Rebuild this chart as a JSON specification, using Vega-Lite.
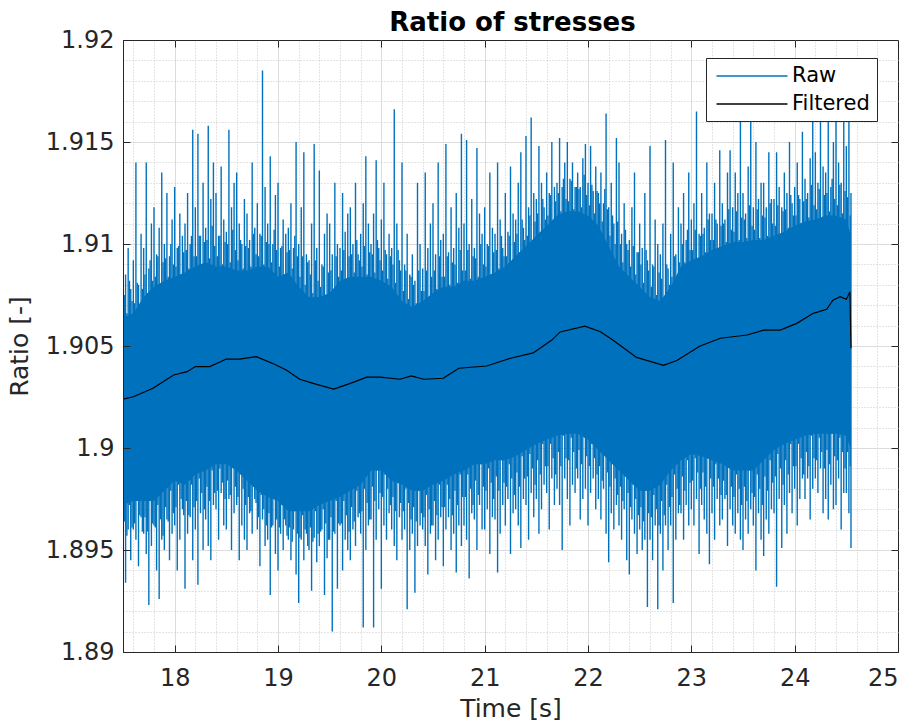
{
"$schema": "https://vega.github.io/schema/vega-lite/v6.json",
"width": 775,
"height": 612,
"autosize": {"type": "none"},
"padding": {"left": 123, "top": 40, "right": 17, "bottom": 72},
"background": "white",
"title": {"text": "Ratio of stresses", "font": "DejaVu Sans", "fontSize": 26, "fontWeight": "bold", "color": "#000000", "offset": -8, "frame": "group", "dx": 2},
"config": {
  "view": {"stroke": "#262626", "strokeWidth": 1},
  "axis": {"labelFont": "DejaVu Sans", "titleFont": "DejaVu Sans", "labelFontSize": 24, "titleFontSize": 25, "titleFontWeight": "normal", "labelColor": "#262626", "titleColor": "#262626", "domainColor": "#262626", "tickColor": "#262626"}
},
"datasets": {
"core": [
{"t":17.5,"top":1.9064,"bot":1.8972},{"t":17.6,"top":1.9066,"bot":1.8974},{"t":17.7,"top":1.9074,"bot":1.8974},{"t":17.8,"top":1.9079,"bot":1.8974},{"t":17.9,"top":1.9082,"bot":1.8979},
{"t":18.0,"top":1.9084,"bot":1.8984},{"t":18.1,"top":1.9086,"bot":1.8982},{"t":18.2,"top":1.9089,"bot":1.8987},{"t":18.3,"top":1.9091,"bot":1.8989},{"t":18.4,"top":1.9089,"bot":1.8992},
{"t":18.5,"top":1.9089,"bot":1.8992},{"t":18.6,"top":1.9087,"bot":1.8989},{"t":18.7,"top":1.9087,"bot":1.8984},{"t":18.8,"top":1.9089,"bot":1.8979},{"t":18.9,"top":1.9089,"bot":1.8976},
{"t":19.0,"top":1.9084,"bot":1.8974},{"t":19.1,"top":1.9086,"bot":1.8969},{"t":19.2,"top":1.9079,"bot":1.8969},{"t":19.3,"top":1.9074,"bot":1.8969},{"t":19.4,"top":1.9074,"bot":1.8972},
{"t":19.5,"top":1.9076,"bot":1.8974},{"t":19.6,"top":1.9082,"bot":1.8976},{"t":19.7,"top":1.9084,"bot":1.8979},{"t":19.8,"top":1.9084,"bot":1.8982},{"t":19.9,"top":1.9084,"bot":1.8989},
{"t":20.0,"top":1.9082,"bot":1.8989},{"t":20.1,"top":1.9079,"bot":1.8984},{"t":20.2,"top":1.9072,"bot":1.8982},{"t":20.3,"top":1.9069,"bot":1.8979},{"t":20.4,"top":1.9072,"bot":1.8979},
{"t":20.5,"top":1.9076,"bot":1.8982},{"t":20.6,"top":1.9079,"bot":1.8984},{"t":20.7,"top":1.9079,"bot":1.8987},{"t":20.8,"top":1.9082,"bot":1.8989},{"t":20.9,"top":1.9082,"bot":1.8992},
{"t":21.0,"top":1.9084,"bot":1.8992},{"t":21.1,"top":1.9086,"bot":1.8994},{"t":21.2,"top":1.9089,"bot":1.8994},{"t":21.3,"top":1.9094,"bot":1.8996},{"t":21.4,"top":1.9099,"bot":1.8999},
{"t":21.5,"top":1.9104,"bot":1.9002},{"t":21.6,"top":1.9109,"bot":1.9004},{"t":21.7,"top":1.9114,"bot":1.9006},{"t":21.8,"top":1.9116,"bot":1.9007},{"t":21.9,"top":1.9116,"bot":1.9007},
{"t":22.0,"top":1.9114,"bot":1.9004},{"t":22.1,"top":1.9109,"bot":1.8999},{"t":22.2,"top":1.9099,"bot":1.8994},{"t":22.3,"top":1.9089,"bot":1.8989},{"t":22.4,"top":1.9084,"bot":1.8984},
{"t":22.5,"top":1.9079,"bot":1.8979},{"t":22.6,"top":1.9074,"bot":1.8979},{"t":22.7,"top":1.9072,"bot":1.8982},{"t":22.8,"top":1.9079,"bot":1.8989},{"t":22.9,"top":1.9089,"bot":1.8994},
{"t":23.0,"top":1.9092,"bot":1.8997},{"t":23.1,"top":1.9094,"bot":1.8996},{"t":23.2,"top":1.9097,"bot":1.8994},{"t":23.3,"top":1.9099,"bot":1.8992},{"t":23.4,"top":1.9101,"bot":1.8989},
{"t":23.5,"top":1.9101,"bot":1.8989},{"t":23.6,"top":1.9102,"bot":1.8989},{"t":23.7,"top":1.9102,"bot":1.8994},{"t":23.8,"top":1.9104,"bot":1.8999},{"t":23.9,"top":1.9106,"bot":1.9002},
{"t":24.0,"top":1.9109,"bot":1.9004},{"t":24.1,"top":1.9111,"bot":1.9006},{"t":24.2,"top":1.9112,"bot":1.9007},{"t":24.3,"top":1.9114,"bot":1.9007},{"t":24.4,"top":1.9114,"bot":1.9007},
{"t":24.5,"top":1.9112,"bot":1.9006},{"t":24.545,"top":1.9104,"bot":1.8999}
],
"raw": [
{"t":17.5,"h":1.9114,"l":1.895},{"t":17.525,"h":1.9085,"l":1.8934},{"t":17.55,"h":1.9098,"l":1.896},{"t":17.575,"h":1.9078,"l":1.8945},
{"t":17.6,"h":1.9092,"l":1.896},{"t":17.625,"h":1.914,"l":1.8955},{"t":17.65,"h":1.908,"l":1.8942},{"t":17.675,"h":1.9105,"l":1.8966},
{"t":17.7,"h":1.9098,"l":1.8958},{"t":17.725,"h":1.914,"l":1.8948},{"t":17.75,"h":1.9088,"l":1.8923},{"t":17.775,"h":1.911,"l":1.8952},
{"t":17.8,"h":1.9118,"l":1.8962},{"t":17.825,"h":1.9095,"l":1.894},{"t":17.85,"h":1.9108,"l":1.8926},{"t":17.875,"h":1.9135,"l":1.8955},
{"t":17.9,"h":1.91,"l":1.895},{"t":17.925,"h":1.9125,"l":1.8965},{"t":17.95,"h":1.9094,"l":1.8945},{"t":17.975,"h":1.9112,"l":1.8958},
{"t":18.0,"h":1.9128,"l":1.8962},{"t":18.025,"h":1.9098,"l":1.894},{"t":18.05,"h":1.9115,"l":1.8955},{"t":18.075,"h":1.9104,"l":1.897},
{"t":18.1,"h":1.911,"l":1.8931},{"t":18.125,"h":1.9125,"l":1.8958},{"t":18.15,"h":1.91,"l":1.8966},{"t":18.175,"h":1.9156,"l":1.8945},
{"t":18.2,"h":1.9118,"l":1.896},{"t":18.225,"h":1.9154,"l":1.8933},{"t":18.25,"h":1.9104,"l":1.8968},{"t":18.275,"h":1.913,"l":1.895},
{"t":18.3,"h":1.9108,"l":1.8965},{"t":18.325,"h":1.9158,"l":1.8952},{"t":18.35,"h":1.9122,"l":1.8945},{"t":18.375,"h":1.914,"l":1.8972},
{"t":18.4,"h":1.9125,"l":1.897},{"t":18.425,"h":1.9104,"l":1.8955},{"t":18.45,"h":1.9138,"l":1.8978},{"t":18.475,"h":1.9112,"l":1.8962},
{"t":18.5,"h":1.9106,"l":1.896},{"t":18.525,"h":1.9156,"l":1.8975},{"t":18.55,"h":1.9118,"l":1.895},{"t":18.575,"h":1.913,"l":1.8968},
{"t":18.6,"h":1.9135,"l":1.8972},{"t":18.625,"h":1.911,"l":1.8945},{"t":18.65,"h":1.91,"l":1.8962},{"t":18.675,"h":1.9122,"l":1.8955},
{"t":18.7,"h":1.9115,"l":1.895},{"t":18.725,"h":1.9102,"l":1.8968},{"t":18.75,"h":1.914,"l":1.8958},{"t":18.775,"h":1.9108,"l":1.8975},
{"t":18.8,"h":1.912,"l":1.896},{"t":18.825,"h":1.9105,"l":1.8942},{"t":18.85,"h":1.9185,"l":1.8965},{"t":18.875,"h":1.9128,"l":1.8952},
{"t":18.9,"h":1.911,"l":1.8955},{"t":18.925,"h":1.9143,"l":1.8928},{"t":18.95,"h":1.91,"l":1.8962},{"t":18.975,"h":1.9124,"l":1.8948},
{"t":19.0,"h":1.913,"l":1.894},{"t":19.025,"h":1.9098,"l":1.8958},{"t":19.05,"h":1.9112,"l":1.895},{"t":19.075,"h":1.9105,"l":1.8962},
{"t":19.1,"h":1.9108,"l":1.8955},{"t":19.125,"h":1.912,"l":1.8945},{"t":19.15,"h":1.9098,"l":1.896},{"t":19.175,"h":1.915,"l":1.8938},
{"t":19.2,"h":1.91,"l":1.8924},{"t":19.225,"h":1.9118,"l":1.8955},{"t":19.25,"h":1.9145,"l":1.8945},{"t":19.275,"h":1.9095,"l":1.8958},
{"t":19.3,"h":1.9092,"l":1.895},{"t":19.325,"h":1.911,"l":1.893},{"t":19.35,"h":1.9149,"l":1.8956},{"t":19.375,"h":1.9098,"l":1.8944},
{"t":19.4,"h":1.9136,"l":1.8952},{"t":19.425,"h":1.909,"l":1.896},{"t":19.45,"h":1.9105,"l":1.8928},{"t":19.475,"h":1.9115,"l":1.8946},
{"t":19.5,"h":1.911,"l":1.8955},{"t":19.525,"h":1.9095,"l":1.891},{"t":19.55,"h":1.913,"l":1.8958},{"t":19.575,"h":1.91,"l":1.8931},
{"t":19.6,"h":1.9098,"l":1.8962},{"t":19.625,"h":1.9125,"l":1.894},{"t":19.65,"h":1.9106,"l":1.8955},{"t":19.675,"h":1.9115,"l":1.895},
{"t":19.7,"h":1.9118,"l":1.8945},{"t":19.725,"h":1.91,"l":1.896},{"t":19.75,"h":1.913,"l":1.8952},{"t":19.775,"h":1.9095,"l":1.8966},
{"t":19.8,"h":1.9105,"l":1.8958},{"t":19.825,"h":1.912,"l":1.8912},{"t":19.85,"h":1.9143,"l":1.895},{"t":19.875,"h":1.911,"l":1.8962},
{"t":19.9,"h":1.91,"l":1.8965},{"t":19.925,"h":1.9115,"l":1.8912},{"t":19.95,"h":1.9141,"l":1.8955},{"t":19.975,"h":1.9098,"l":1.897},
{"t":20.0,"h":1.9112,"l":1.8931},{"t":20.025,"h":1.913,"l":1.8962},{"t":20.05,"h":1.9095,"l":1.8955},{"t":20.075,"h":1.9105,"l":1.8968},
{"t":20.1,"h":1.9098,"l":1.896},{"t":20.125,"h":1.9166,"l":1.8952},{"t":20.15,"h":1.911,"l":1.8945},{"t":20.175,"h":1.9092,"l":1.8966},
{"t":20.2,"h":1.914,"l":1.8955},{"t":20.225,"h":1.909,"l":1.896},{"t":20.25,"h":1.9105,"l":1.8921},{"t":20.275,"h":1.9085,"l":1.895},
{"t":20.3,"h":1.9095,"l":1.8958},{"t":20.325,"h":1.9082,"l":1.8929},{"t":20.35,"h":1.913,"l":1.8952},{"t":20.375,"h":1.91,"l":1.8962},
{"t":20.4,"h":1.9088,"l":1.896},{"t":20.425,"h":1.9135,"l":1.8952},{"t":20.45,"h":1.9098,"l":1.8938},{"t":20.475,"h":1.911,"l":1.8958},
{"t":20.5,"h":1.912,"l":1.8962},{"t":20.525,"h":1.9095,"l":1.8945},{"t":20.55,"h":1.914,"l":1.8955},{"t":20.575,"h":1.9102,"l":1.8966},
{"t":20.6,"h":1.9105,"l":1.8942},{"t":20.625,"h":1.9149,"l":1.896},{"t":20.65,"h":1.9096,"l":1.8966},{"t":20.675,"h":1.9118,"l":1.895},
{"t":20.7,"h":1.9098,"l":1.8958},{"t":20.725,"h":1.9125,"l":1.8939},{"t":20.75,"h":1.9108,"l":1.8962},{"t":20.775,"h":1.9154,"l":1.8952},
{"t":20.8,"h":1.911,"l":1.8962},{"t":20.825,"h":1.9151,"l":1.8955},{"t":20.85,"h":1.91,"l":1.8936},{"t":20.875,"h":1.9122,"l":1.8968},
{"t":20.9,"h":1.9098,"l":1.8965},{"t":20.925,"h":1.9147,"l":1.895},{"t":20.95,"h":1.9115,"l":1.8972},{"t":20.975,"h":1.9105,"l":1.896},
{"t":21.0,"h":1.9118,"l":1.896},{"t":21.025,"h":1.91,"l":1.897},{"t":21.05,"h":1.9135,"l":1.8948},{"t":21.075,"h":1.9108,"l":1.8966},
{"t":21.1,"h":1.9105,"l":1.8965},{"t":21.125,"h":1.914,"l":1.8939},{"t":21.15,"h":1.9112,"l":1.8958},{"t":21.175,"h":1.9098,"l":1.8972},
{"t":21.2,"h":1.9125,"l":1.8962},{"t":21.225,"h":1.9106,"l":1.8975},{"t":21.25,"h":1.9138,"l":1.8948},{"t":21.275,"h":1.9115,"l":1.8968},
{"t":21.3,"h":1.9112,"l":1.897},{"t":21.325,"h":1.913,"l":1.8962},{"t":21.35,"h":1.9145,"l":1.8951},{"t":21.375,"h":1.9108,"l":1.8975},
{"t":21.4,"h":1.9153,"l":1.8972},{"t":21.425,"h":1.9118,"l":1.8955},{"t":21.45,"h":1.9162,"l":1.8978},{"t":21.475,"h":1.9125,"l":1.8966},
{"t":21.5,"h":1.9122,"l":1.8975},{"t":21.525,"h":1.9148,"l":1.8958},{"t":21.55,"h":1.913,"l":1.897},{"t":21.575,"h":1.9118,"l":1.8982},
{"t":21.6,"h":1.9135,"l":1.8978},{"t":21.625,"h":1.9125,"l":1.896},{"t":21.65,"h":1.915,"l":1.8985},{"t":21.675,"h":1.9128,"l":1.8972},
{"t":21.7,"h":1.913,"l":1.898},{"t":21.725,"h":1.9152,"l":1.8972},{"t":21.75,"h":1.9128,"l":1.895},{"t":21.775,"h":1.914,"l":1.8985},
{"t":21.8,"h":1.915,"l":1.8975},{"t":21.825,"h":1.9132,"l":1.8962},{"t":21.85,"h":1.914,"l":1.8982},{"t":21.875,"h":1.9128,"l":1.8978},
{"t":21.9,"h":1.9135,"l":1.8985},{"t":21.925,"h":1.9128,"l":1.8965},{"t":21.95,"h":1.9142,"l":1.8975},{"t":21.975,"h":1.9149,"l":1.898},
{"t":22.0,"h":1.913,"l":1.8962},{"t":22.025,"h":1.9148,"l":1.8978},{"t":22.05,"h":1.9126,"l":1.8985},{"t":22.075,"h":1.9138,"l":1.897},
{"t":22.1,"h":1.9125,"l":1.8975},{"t":22.125,"h":1.9135,"l":1.8965},{"t":22.15,"h":1.912,"l":1.898},{"t":22.175,"h":1.9164,"l":1.8958},
{"t":22.2,"h":1.9118,"l":1.8944},{"t":22.225,"h":1.913,"l":1.8968},{"t":22.25,"h":1.911,"l":1.896},{"t":22.275,"h":1.9152,"l":1.8972},
{"t":22.3,"h":1.914,"l":1.8962},{"t":22.325,"h":1.9105,"l":1.8955},{"t":22.35,"h":1.912,"l":1.897},{"t":22.375,"h":1.91,"l":1.8945},
{"t":22.4,"h":1.9102,"l":1.8938},{"t":22.425,"h":1.9118,"l":1.8965},{"t":22.45,"h":1.9135,"l":1.8958},{"t":22.475,"h":1.9096,"l":1.8948},
{"t":22.5,"h":1.911,"l":1.896},{"t":22.525,"h":1.9098,"l":1.895},{"t":22.55,"h":1.9125,"l":1.8955},{"t":22.575,"h":1.9092,"l":1.8922},
{"t":22.6,"h":1.9148,"l":1.8955},{"t":22.625,"h":1.909,"l":1.8945},{"t":22.65,"h":1.9112,"l":1.8962},{"t":22.675,"h":1.91,"l":1.8921},
{"t":22.7,"h":1.9095,"l":1.8958},{"t":22.725,"h":1.911,"l":1.894},{"t":22.75,"h":1.9151,"l":1.8962},{"t":22.775,"h":1.9088,"l":1.895},
{"t":22.8,"h":1.9105,"l":1.8962},{"t":22.825,"h":1.914,"l":1.8924},{"t":22.85,"h":1.9095,"l":1.8955},{"t":22.875,"h":1.9118,"l":1.8968},
{"t":22.9,"h":1.911,"l":1.8968},{"t":22.925,"h":1.9125,"l":1.8955},{"t":22.95,"h":1.9102,"l":1.8972},{"t":22.975,"h":1.9135,"l":1.8962},
{"t":23.0,"h":1.9112,"l":1.897},{"t":23.025,"h":1.912,"l":1.8962},{"t":23.05,"h":1.9165,"l":1.8975},{"t":23.075,"h":1.9105,"l":1.8948},
{"t":23.1,"h":1.9125,"l":1.8972},{"t":23.125,"h":1.9108,"l":1.8965},{"t":23.15,"h":1.914,"l":1.8958},{"t":23.175,"h":1.9115,"l":1.8943},
{"t":23.2,"h":1.9115,"l":1.8968},{"t":23.225,"h":1.913,"l":1.8955},{"t":23.25,"h":1.911,"l":1.8975},{"t":23.275,"h":1.9146,"l":1.8962},
{"t":23.3,"h":1.912,"l":1.8965},{"t":23.325,"h":1.9112,"l":1.8975},{"t":23.35,"h":1.9135,"l":1.8952},{"t":23.375,"h":1.9146,"l":1.897},
{"t":23.4,"h":1.9118,"l":1.8962},{"t":23.425,"h":1.9135,"l":1.8958},{"t":23.45,"h":1.9125,"l":1.8968},{"t":23.475,"h":1.9161,"l":1.8955},
{"t":23.5,"h":1.9125,"l":1.895},{"t":23.525,"h":1.9115,"l":1.8965},{"t":23.55,"h":1.9138,"l":1.8958},{"t":23.575,"h":1.916,"l":1.897},
{"t":23.6,"h":1.9118,"l":1.8962},{"t":23.625,"h":1.915,"l":1.894},{"t":23.65,"h":1.9122,"l":1.8968},{"t":23.675,"h":1.913,"l":1.8955},
{"t":23.7,"h":1.913,"l":1.8947},{"t":23.725,"h":1.9118,"l":1.8965},{"t":23.75,"h":1.9145,"l":1.8958},{"t":23.775,"h":1.9122,"l":1.897},
{"t":23.8,"h":1.9122,"l":1.8968},{"t":23.825,"h":1.9145,"l":1.8932},{"t":23.85,"h":1.9128,"l":1.8975},{"t":23.875,"h":1.9118,"l":1.8951},
{"t":23.9,"h":1.9135,"l":1.8972},{"t":23.925,"h":1.9125,"l":1.8958},{"t":23.95,"h":1.915,"l":1.8978},{"t":23.975,"h":1.912,"l":1.8968},
{"t":24.0,"h":1.9128,"l":1.898},{"t":24.025,"h":1.914,"l":1.8962},{"t":24.05,"h":1.9122,"l":1.8975},{"t":24.075,"h":1.9155,"l":1.8985},
{"t":24.1,"h":1.9132,"l":1.8975},{"t":24.125,"h":1.9125,"l":1.8985},{"t":24.15,"h":1.9142,"l":1.8965},{"t":24.175,"h":1.916,"l":1.898},
{"t":24.2,"h":1.9145,"l":1.8985},{"t":24.225,"h":1.913,"l":1.8978},{"t":24.25,"h":1.9165,"l":1.899},{"t":24.275,"h":1.9138,"l":1.8968},
{"t":24.3,"h":1.9135,"l":1.8975},{"t":24.325,"h":1.917,"l":1.8965},{"t":24.35,"h":1.9128,"l":1.8982},{"t":24.375,"h":1.915,"l":1.897},
{"t":24.4,"h":1.9168,"l":1.8972},{"t":24.425,"h":1.914,"l":1.8985},{"t":24.45,"h":1.913,"l":1.896},{"t":24.475,"h":1.916,"l":1.8978},
{"t":24.5,"h":1.9148,"l":1.8978},{"t":24.525,"h":1.9168,"l":1.8968},{"t":24.545,"h":1.9125,"l":1.8951},
{"t":17.5125,"h":1.9075,"l":1.8964},{"t":17.5375,"h":1.9066,"l":1.8957},{"t":17.5625,"h":1.9082,"l":1.8972},{"t":17.5875,"h":1.9072,"l":1.8961},
{"t":17.6125,"h":1.9071,"l":1.8963},{"t":17.6375,"h":1.9081,"l":1.8974},{"t":17.6625,"h":1.9067,"l":1.8967},{"t":17.6875,"h":1.9078,"l":1.8959},
{"t":17.7125,"h":1.9085,"l":1.8966},{"t":17.7375,"h":1.9076,"l":1.8959},{"t":17.7625,"h":1.9092,"l":1.8974},{"t":17.7875,"h":1.9082,"l":1.8963},
{"t":17.8125,"h":1.9084,"l":1.8961},{"t":17.8375,"h":1.9094,"l":1.8972},{"t":17.8625,"h":1.908,"l":1.8965},{"t":17.8875,"h":1.9091,"l":1.8957},
{"t":17.9125,"h":1.9093,"l":1.8971},{"t":17.9375,"h":1.9084,"l":1.8964},{"t":17.9625,"h":1.91,"l":1.8979},{"t":17.9875,"h":1.909,"l":1.8968},
{"t":18.0125,"h":1.9089,"l":1.8971},{"t":18.0375,"h":1.9099,"l":1.8982},{"t":18.0625,"h":1.9085,"l":1.8975},{"t":18.0875,"h":1.9096,"l":1.8967},
{"t":18.1125,"h":1.9097,"l":1.8974},{"t":18.1375,"h":1.9088,"l":1.8967},{"t":18.1625,"h":1.9104,"l":1.8982},{"t":18.1875,"h":1.9094,"l":1.8971},
{"t":18.2125,"h":1.9094,"l":1.8974},{"t":18.2375,"h":1.9104,"l":1.8985},{"t":18.2625,"h":1.909,"l":1.8978},{"t":18.2875,"h":1.9101,"l":1.897},
{"t":18.3125,"h":1.9102,"l":1.8981},{"t":18.3375,"h":1.9093,"l":1.8974},{"t":18.3625,"h":1.9109,"l":1.8989},{"t":18.3875,"h":1.9099,"l":1.8978},
{"t":18.4125,"h":1.9094,"l":1.8979},{"t":18.4375,"h":1.9104,"l":1.899},{"t":18.4625,"h":1.909,"l":1.8983},{"t":18.4875,"h":1.9101,"l":1.8975},
{"t":18.5125,"h":1.91,"l":1.8984},{"t":18.5375,"h":1.9091,"l":1.8977},{"t":18.5625,"h":1.9107,"l":1.8992},{"t":18.5875,"h":1.9097,"l":1.8981},
{"t":18.6125,"h":1.9092,"l":1.8976},{"t":18.6375,"h":1.9102,"l":1.8987},{"t":18.6625,"h":1.9088,"l":1.898},{"t":18.6875,"h":1.9099,"l":1.8972},
{"t":18.7125,"h":1.9098,"l":1.8976},{"t":18.7375,"h":1.9089,"l":1.8969},{"t":18.7625,"h":1.9105,"l":1.8984},{"t":18.7875,"h":1.9095,"l":1.8973},
{"t":18.8125,"h":1.9094,"l":1.8966},{"t":18.8375,"h":1.9104,"l":1.8977},{"t":18.8625,"h":1.909,"l":1.897},{"t":18.8875,"h":1.9101,"l":1.8962},
{"t":18.9125,"h":1.91,"l":1.8968},{"t":18.9375,"h":1.9091,"l":1.8961},{"t":18.9625,"h":1.9107,"l":1.8976},{"t":18.9875,"h":1.9097,"l":1.8965},
{"t":19.0125,"h":1.9089,"l":1.8961},{"t":19.0375,"h":1.9099,"l":1.8972},{"t":19.0625,"h":1.9085,"l":1.8965},{"t":19.0875,"h":1.9096,"l":1.8957},
{"t":19.1125,"h":1.9097,"l":1.8961},{"t":19.1375,"h":1.9088,"l":1.8954},{"t":19.1625,"h":1.9104,"l":1.8969},{"t":19.1875,"h":1.9094,"l":1.8958},
{"t":19.2125,"h":1.9084,"l":1.8956},{"t":19.2375,"h":1.9094,"l":1.8967},{"t":19.2625,"h":1.908,"l":1.896},{"t":19.2875,"h":1.9091,"l":1.8952},
{"t":19.3125,"h":1.9085,"l":1.8961},{"t":19.3375,"h":1.9076,"l":1.8954},{"t":19.3625,"h":1.9092,"l":1.8969},{"t":19.3875,"h":1.9082,"l":1.8958},
{"t":19.4125,"h":1.9079,"l":1.8959},{"t":19.4375,"h":1.9089,"l":1.897},{"t":19.4625,"h":1.9075,"l":1.8963},{"t":19.4875,"h":1.9086,"l":1.8955},
{"t":19.5125,"h":1.9087,"l":1.8966},{"t":19.5375,"h":1.9078,"l":1.8959},{"t":19.5625,"h":1.9094,"l":1.8974},{"t":19.5875,"h":1.9084,"l":1.8963},
{"t":19.6125,"h":1.9087,"l":1.8963},{"t":19.6375,"h":1.9097,"l":1.8974},{"t":19.6625,"h":1.9083,"l":1.8967},{"t":19.6875,"h":1.9094,"l":1.8959},
{"t":19.7125,"h":1.9095,"l":1.8971},{"t":19.7375,"h":1.9086,"l":1.8964},{"t":19.7625,"h":1.9102,"l":1.8979},{"t":19.7875,"h":1.9092,"l":1.8968},
{"t":19.8125,"h":1.9089,"l":1.8969},{"t":19.8375,"h":1.9099,"l":1.898},{"t":19.8625,"h":1.9085,"l":1.8973},{"t":19.8875,"h":1.9096,"l":1.8965},
{"t":19.9125,"h":1.9095,"l":1.8981},{"t":19.9375,"h":1.9086,"l":1.8974},{"t":19.9625,"h":1.9102,"l":1.8989},{"t":19.9875,"h":1.9092,"l":1.8978},
{"t":20.0125,"h":1.9087,"l":1.8976},{"t":20.0375,"h":1.9097,"l":1.8987},{"t":20.0625,"h":1.9083,"l":1.898},{"t":20.0875,"h":1.9094,"l":1.8972},
{"t":20.1125,"h":1.909,"l":1.8976},{"t":20.1375,"h":1.9081,"l":1.8969},{"t":20.1625,"h":1.9097,"l":1.8984},{"t":20.1875,"h":1.9087,"l":1.8973},
{"t":20.2125,"h":1.9077,"l":1.8969},{"t":20.2375,"h":1.9087,"l":1.898},{"t":20.2625,"h":1.9073,"l":1.8973},{"t":20.2875,"h":1.9084,"l":1.8965},
{"t":20.3125,"h":1.908,"l":1.8971},{"t":20.3375,"h":1.9071,"l":1.8964},{"t":20.3625,"h":1.9087,"l":1.8979},{"t":20.3875,"h":1.9077,"l":1.8968},
{"t":20.4125,"h":1.9077,"l":1.8966},{"t":20.4375,"h":1.9087,"l":1.8977},{"t":20.4625,"h":1.9073,"l":1.897},{"t":20.4875,"h":1.9084,"l":1.8962},
{"t":20.5125,"h":1.9087,"l":1.8974},{"t":20.5375,"h":1.9078,"l":1.8967},{"t":20.5625,"h":1.9094,"l":1.8982},{"t":20.5875,"h":1.9084,"l":1.8971},
{"t":20.6125,"h":1.9084,"l":1.8971},{"t":20.6375,"h":1.9094,"l":1.8982},{"t":20.6625,"h":1.908,"l":1.8975},{"t":20.6875,"h":1.9091,"l":1.8967},
{"t":20.7125,"h":1.909,"l":1.8979},{"t":20.7375,"h":1.9081,"l":1.8972},{"t":20.7625,"h":1.9097,"l":1.8987},{"t":20.7875,"h":1.9087,"l":1.8976},
{"t":20.8125,"h":1.9087,"l":1.8976},{"t":20.8375,"h":1.9097,"l":1.8987},{"t":20.8625,"h":1.9083,"l":1.898},{"t":20.8875,"h":1.9094,"l":1.8972},
{"t":20.9125,"h":1.9093,"l":1.8984},{"t":20.9375,"h":1.9084,"l":1.8977},{"t":20.9625,"h":1.91,"l":1.8992},{"t":20.9875,"h":1.909,"l":1.8981},
{"t":21.0125,"h":1.9089,"l":1.8979},{"t":21.0375,"h":1.9099,"l":1.899},{"t":21.0625,"h":1.9085,"l":1.8983},{"t":21.0875,"h":1.9096,"l":1.8975},
{"t":21.1125,"h":1.9097,"l":1.8986},{"t":21.1375,"h":1.9088,"l":1.8979},{"t":21.1625,"h":1.9104,"l":1.8994},{"t":21.1875,"h":1.9094,"l":1.8983},
{"t":21.2125,"h":1.9094,"l":1.8981},{"t":21.2375,"h":1.9104,"l":1.8992},{"t":21.2625,"h":1.909,"l":1.8985},{"t":21.2875,"h":1.9101,"l":1.8977},
{"t":21.3125,"h":1.9105,"l":1.8988},{"t":21.3375,"h":1.9096,"l":1.8981},{"t":21.3625,"h":1.9112,"l":1.8996},{"t":21.3875,"h":1.9102,"l":1.8985},
{"t":21.4125,"h":1.9104,"l":1.8986},{"t":21.4375,"h":1.9114,"l":1.8997},{"t":21.4625,"h":1.91,"l":1.899},{"t":21.4875,"h":1.9111,"l":1.8982},
{"t":21.5125,"h":1.9115,"l":1.8994},{"t":21.5375,"h":1.9106,"l":1.8987},{"t":21.5625,"h":1.9122,"l":1.9002},{"t":21.5875,"h":1.9112,"l":1.8991},
{"t":21.6125,"h":1.9114,"l":1.8991},{"t":21.6375,"h":1.9124,"l":1.9002},{"t":21.6625,"h":1.911,"l":1.8995},{"t":21.6875,"h":1.9121,"l":1.8987},
{"t":21.7125,"h":1.9125,"l":1.8998},{"t":21.7375,"h":1.9116,"l":1.8991},{"t":21.7625,"h":1.9132,"l":1.9006},{"t":21.7875,"h":1.9122,"l":1.8995},
{"t":21.8125,"h":1.9121,"l":1.8994},{"t":21.8375,"h":1.9131,"l":1.9005},{"t":21.8625,"h":1.9117,"l":1.8998},{"t":21.8875,"h":1.9128,"l":1.899},
{"t":21.9125,"h":1.9127,"l":1.8999},{"t":21.9375,"h":1.9118,"l":1.8992},{"t":21.9625,"h":1.9134,"l":1.9007},{"t":21.9875,"h":1.9124,"l":1.8996},
{"t":22.0125,"h":1.9119,"l":1.8991},{"t":22.0375,"h":1.9129,"l":1.9002},{"t":22.0625,"h":1.9115,"l":1.8995},{"t":22.0875,"h":1.9126,"l":1.8987},
{"t":22.1125,"h":1.912,"l":1.8991},{"t":22.1375,"h":1.9111,"l":1.8984},{"t":22.1625,"h":1.9127,"l":1.8999},{"t":22.1875,"h":1.9117,"l":1.8988},
{"t":22.2125,"h":1.9104,"l":1.8981},{"t":22.2375,"h":1.9114,"l":1.8992},{"t":22.2625,"h":1.91,"l":1.8985},{"t":22.2875,"h":1.9111,"l":1.8977},
{"t":22.3125,"h":1.91,"l":1.8981},{"t":22.3375,"h":1.9091,"l":1.8974},{"t":22.3625,"h":1.9107,"l":1.8989},{"t":22.3875,"h":1.9097,"l":1.8978},
{"t":22.4125,"h":1.9089,"l":1.8971},{"t":22.4375,"h":1.9099,"l":1.8982},{"t":22.4625,"h":1.9085,"l":1.8975},{"t":22.4875,"h":1.9096,"l":1.8967},
{"t":22.5125,"h":1.909,"l":1.8971},{"t":22.5375,"h":1.9081,"l":1.8964},{"t":22.5625,"h":1.9097,"l":1.8979},{"t":22.5875,"h":1.9087,"l":1.8968},
{"t":22.6125,"h":1.9079,"l":1.8966},{"t":22.6375,"h":1.9089,"l":1.8977},{"t":22.6625,"h":1.9075,"l":1.897},{"t":22.6875,"h":1.9086,"l":1.8962},
{"t":22.7125,"h":1.9083,"l":1.8974},{"t":22.7375,"h":1.9074,"l":1.8967},{"t":22.7625,"h":1.909,"l":1.8982},{"t":22.7875,"h":1.908,"l":1.8971},
{"t":22.8125,"h":1.9084,"l":1.8976},{"t":22.8375,"h":1.9094,"l":1.8987},{"t":22.8625,"h":1.908,"l":1.898},{"t":22.8875,"h":1.9091,"l":1.8972},
{"t":22.9125,"h":1.91,"l":1.8986},{"t":22.9375,"h":1.9091,"l":1.8979},{"t":22.9625,"h":1.9107,"l":1.8994},{"t":22.9875,"h":1.9097,"l":1.8983},
{"t":23.0125,"h":1.9097,"l":1.8984},{"t":23.0375,"h":1.9107,"l":1.8995},{"t":23.0625,"h":1.9093,"l":1.8988},{"t":23.0875,"h":1.9104,"l":1.898},
{"t":23.1125,"h":1.9105,"l":1.8988},{"t":23.1375,"h":1.9096,"l":1.8981},{"t":23.1625,"h":1.9112,"l":1.8996},{"t":23.1875,"h":1.9102,"l":1.8985},
{"t":23.2125,"h":1.9102,"l":1.8981},{"t":23.2375,"h":1.9112,"l":1.8992},{"t":23.2625,"h":1.9098,"l":1.8985},{"t":23.2875,"h":1.9109,"l":1.8977},
{"t":23.3125,"h":1.911,"l":1.8984},{"t":23.3375,"h":1.9101,"l":1.8977},{"t":23.3625,"h":1.9117,"l":1.8992},{"t":23.3875,"h":1.9107,"l":1.8981},
{"t":23.4125,"h":1.9106,"l":1.8976},{"t":23.4375,"h":1.9116,"l":1.8987},{"t":23.4625,"h":1.9102,"l":1.898},{"t":23.4875,"h":1.9113,"l":1.8972},
{"t":23.5125,"h":1.9112,"l":1.8981},{"t":23.5375,"h":1.9103,"l":1.8974},{"t":23.5625,"h":1.9119,"l":1.8989},{"t":23.5875,"h":1.9109,"l":1.8978},
{"t":23.6125,"h":1.9107,"l":1.8976},{"t":23.6375,"h":1.9117,"l":1.8987},{"t":23.6625,"h":1.9103,"l":1.898},{"t":23.6875,"h":1.9114,"l":1.8972},
{"t":23.7125,"h":1.9113,"l":1.8986},{"t":23.7375,"h":1.9104,"l":1.8979},{"t":23.7625,"h":1.912,"l":1.8994},{"t":23.7875,"h":1.911,"l":1.8983},
{"t":23.8125,"h":1.9109,"l":1.8986},{"t":23.8375,"h":1.9119,"l":1.8997},{"t":23.8625,"h":1.9105,"l":1.899},{"t":23.8875,"h":1.9116,"l":1.8982},
{"t":23.9125,"h":1.9117,"l":1.8994},{"t":23.9375,"h":1.9108,"l":1.8987},{"t":23.9625,"h":1.9124,"l":1.9002},{"t":23.9875,"h":1.9114,"l":1.8991},
{"t":24.0125,"h":1.9114,"l":1.8991},{"t":24.0375,"h":1.9124,"l":1.9002},{"t":24.0625,"h":1.911,"l":1.8995},{"t":24.0875,"h":1.9121,"l":1.8987},
{"t":24.1125,"h":1.9122,"l":1.8998},{"t":24.1375,"h":1.9113,"l":1.8991},{"t":24.1625,"h":1.9129,"l":1.9006},{"t":24.1875,"h":1.9119,"l":1.8995},
{"t":24.2125,"h":1.9117,"l":1.8994},{"t":24.2375,"h":1.9127,"l":1.9005},{"t":24.2625,"h":1.9113,"l":1.8998},{"t":24.2875,"h":1.9124,"l":1.899},
{"t":24.3125,"h":1.9125,"l":1.8999},{"t":24.3375,"h":1.9116,"l":1.8992},{"t":24.3625,"h":1.9132,"l":1.9007},{"t":24.3875,"h":1.9122,"l":1.8996},
{"t":24.4125,"h":1.9119,"l":1.8994},{"t":24.4375,"h":1.9129,"l":1.9005},{"t":24.4625,"h":1.9115,"l":1.8998},{"t":24.4875,"h":1.9126,"l":1.899},
{"t":24.5125,"h":1.9123,"l":1.8998},{"t":24.5375,"h":1.9114,"l":1.8991}
],
"filt": [
{"t":17.5,"v":1.9024},{"t":17.6,"v":1.90251},{"t":17.79,"v":1.90293},{"t":17.99,"v":1.90358},{"t":18.12,"v":1.90374},{"t":18.2,"v":1.90399},{"t":18.34,"v":1.90399},{"t":18.5,"v":1.90436},{"t":18.63,"v":1.90436},{"t":18.79,"v":1.90448},{"t":18.96,"v":1.90412},{"t":19.08,"v":1.90382},{"t":19.21,"v":1.90337},{"t":19.34,"v":1.90317},{"t":19.54,"v":1.90289},{"t":19.7,"v":1.90317},{"t":19.86,"v":1.90347},{"t":19.99,"v":1.90347},{"t":20.18,"v":1.90337},{"t":20.29,"v":1.90353},{"t":20.41,"v":1.90337},{"t":20.6,"v":1.90342},{"t":20.75,"v":1.90391},{"t":21.02,"v":1.90402},{"t":21.25,"v":1.9044},{"t":21.47,"v":1.90466},{"t":21.65,"v":1.90529},{"t":21.73,"v":1.90569},{"t":21.97,"v":1.90597},{"t":22.12,"v":1.9057},{"t":22.24,"v":1.90529},{"t":22.47,"v":1.90444},{"t":22.73,"v":1.90405},{"t":22.86,"v":1.90429},{"t":23.08,"v":1.90499},{"t":23.28,"v":1.90538},{"t":23.54,"v":1.90554},{"t":23.7,"v":1.90578},{"t":23.86,"v":1.90578},{"t":24.02,"v":1.90611},{"t":24.18,"v":1.9066},{"t":24.31,"v":1.9068},{"t":24.37,"v":1.90725},{"t":24.44,"v":1.90742},{"t":24.5,"v":1.90729},{"t":24.535,"v":1.90766},{"t":24.545,"v":1.90489}
]
},
"layer": [
{
  "data": {"name": "core"},
  "mark": {"type": "area", "color": "#0072BD", "clip": true},
  "encoding": {
    "x": {"field": "t", "type": "quantitative", "scale": {"domain": [17.5, 25], "nice": false, "zero": false},
      "axis": {"orient": "bottom", "title": "Time [s]", "values": [18,19,20,21,22,23,24,25], "format": "~g", "grid": false, "domain": true, "ticks": true, "tickSize": -7, "labelPadding": 21, "titlePadding": 6, "zindex": 1}},
    "y": {"field": "top", "type": "quantitative", "scale": {"domain": [1.89, 1.92], "nice": false, "zero": false},
      "axis": {"orient": "left", "title": "Ratio [-]", "values": [1.89,1.895,1.9,1.905,1.91,1.915,1.92], "format": "~g", "grid": false, "domain": true, "ticks": true, "tickSize": -7, "labelPadding": 16, "titlePadding": 13, "zindex": 1}},
    "y2": {"field": "bot"}
  }
},
{
  "data": {"name": "raw"},
  "mark": {"type": "rule", "strokeWidth": 1.4, "clip": true},
  "encoding": {
    "x": {"field": "t", "type": "quantitative",
      "axis": {"orient": "top", "title": null, "labels": false, "domain": false, "values": [17.6,17.8,18,18.2,18.4,18.6,18.8,19,19.2,19.4,19.6,19.8,20,20.2,20.4,20.6,20.8,21,21.2,21.4,21.6,21.8,22,22.2,22.4,22.6,22.8,23,23.2,23.4,23.6,23.8,24,24.2,24.4,24.6,24.8], "grid": true,
        "gridColor": {"condition": {"test": "abs(datum.value - round(datum.value)) < 0.001", "value": "#dcdcdc"}, "value": "#c8c8c8"},
        "gridDash": {"condition": {"test": "abs(datum.value - round(datum.value)) < 0.001", "value": []}, "value": [1, 2]},
        "tickOpacity": {"condition": {"test": "abs(datum.value - round(datum.value)) < 0.001", "value": 1}, "value": 0},
        "tickSize": -7, "zindex": 0}},
    "y": {"field": "h", "type": "quantitative",
      "axis": {"orient": "right", "title": null, "labels": false, "domain": false, "values": [1.891,1.892,1.893,1.894,1.895,1.896,1.897,1.898,1.899,1.9,1.901,1.902,1.903,1.904,1.905,1.906,1.907,1.908,1.909,1.91,1.911,1.912,1.913,1.914,1.915,1.916,1.917,1.918,1.919], "grid": true,
        "gridColor": {"condition": {"test": "abs(datum.value*200 - round(datum.value*200)) < 0.001", "value": "#dcdcdc"}, "value": "#c8c8c8"},
        "gridDash": {"condition": {"test": "abs(datum.value*200 - round(datum.value*200)) < 0.001", "value": []}, "value": [1, 2]},
        "tickOpacity": {"condition": {"test": "abs(datum.value*200 - round(datum.value*200)) < 0.001", "value": 1}, "value": 0},
        "tickSize": -7, "zindex": 0}},
    "y2": {"field": "l"},
    "color": {"datum": "Raw", "type": "nominal",
      "scale": {"domain": ["Raw", "Filtered"], "range": ["#0072BD", "#000000"]},
      "legend": {"title": null, "orient": "none", "legendX": 583, "legendY": 18, "fillColor": "white", "strokeColor": "#262626", "padding": 7,
        "labelFont": "DejaVu Sans", "labelFontSize": 21, "labelColor": "#000000",
        "symbolType": "M-3.55,0H3.55", "symbolSize": 400, "symbolStrokeWidth": 1.3, "symbolOffset": 28, "labelOffset": 29, "rowPadding": 7}}
  }
},
{
  "data": {"name": "filt"},
  "mark": {"type": "line", "strokeWidth": 1.2, "clip": true},
  "encoding": {
    "x": {"field": "t", "type": "quantitative", "axis": null},
    "y": {"field": "v", "type": "quantitative", "axis": null},
    "color": {"datum": "Filtered", "type": "nominal"}
  }
}
],
"resolve": {"axis": {"x": "independent", "y": "independent"}}
}
